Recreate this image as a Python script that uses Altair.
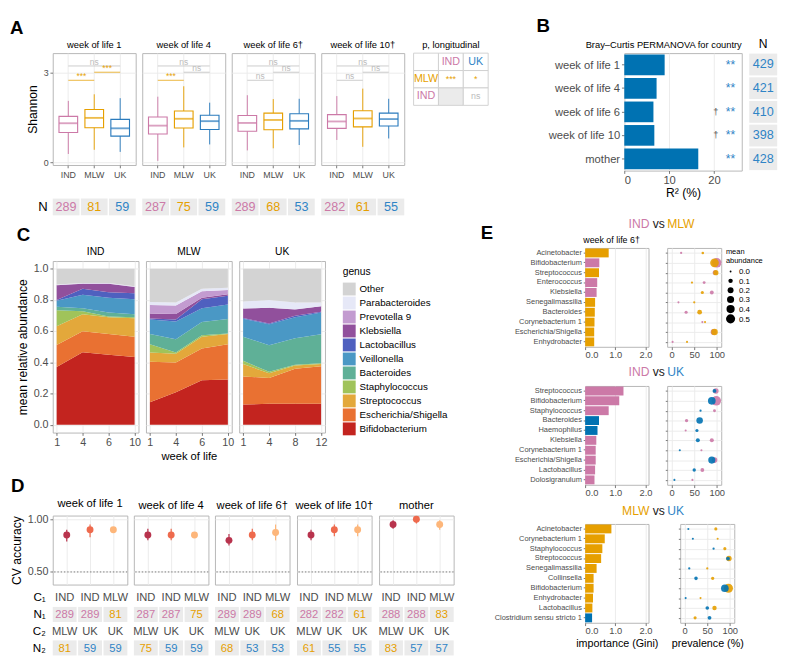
import json
import altair as alt
import pandas as pd

FONT = "Liberation Sans"
PINK = "#CC79A7"
ORANGE = "#E69F00"
BLUE = "#0072B2"
BLUE_TXT = "#2F84C6"
BOX_BLUE = "#2A7BBD"
LABEL = "#4D4D4D"
CELL = "#EBEBEB"
BORDER = "#B3B3B3"
NS_GRAY = "#BBBBBB"
NOVIEW = alt.ViewBackground(stroke="transparent")

TXT_COL = {"IND": PINK, "MLW": ORANGE, "UK": BLUE_TXT}
BOX_COL = {"IND": PINK, "MLW": ORANGE, "UK": BOX_BLUE}
BAR_COL = {"IND": PINK, "MLW": ORANGE, "UK": BLUE}
D_COL = {"IND-MLW": "#B8334D", "IND-UK": "#EE6A4D", "MLW-UK": "#FDB67A"}

COUNTRIES = ["IND", "MLW", "UK"]

# ---------------- Panel A data ----------------
a_weeks = ["week of life 1", "week of life 4", "week of life 6\u2020", "week of life 10\u2020"]
a_q1 = [[1.00, 1.16, 0.88], [0.95, 1.15, 1.10], [1.04, 1.09, 1.12], [1.14, 1.19, 1.22]]
a_med = [[1.31, 1.49, 1.14], [1.23, 1.46, 1.38], [1.32, 1.42, 1.39], [1.37, 1.47, 1.45]]
a_q3 = [[1.54, 1.77, 1.44], [1.52, 1.72, 1.58], [1.57, 1.65, 1.63], [1.60, 1.73, 1.65]]
a_lo = [[0.28, 0.42, 0.35], [0.05, 0.50, 0.60], [0.40, 0.47, 0.58], [0.75, 0.52, 0.80]]
a_hi = [[2.06, 2.28, 2.15], [2.20, 2.55, 2.00], [2.25, 2.12, 2.13], [2.22, 2.47, 2.13]]
a_br_g1 = ["IND", "MLW", "IND"]
a_br_g2 = ["MLW", "UK", "UK"]
a_br_y = [2.75, 3.02, 3.23]
a_br_lab = [["***", "***", "ns"], ["***", "ns", "ns"], ["ns", "ns", "ns"], ["ns", "ns", "ns"]]
a_n = [[289, 81, 59], [287, 75, 59], [289, 68, 53], [282, 61, 55]]

p_rows = ["hdr", "MLW", "IND"]
p_cols = ["lab", "IND", "UK"]
p_cell_row = ["hdr", "hdr", "hdr", "MLW", "MLW", "MLW", "IND", "IND", "IND"]
p_cell_col = ["lab", "IND", "UK", "lab", "IND", "UK", "lab", "IND", "UK"]
p_cell_text = ["", "IND", "UK", "MLW", "***", "*", "IND", "", "ns"]
p_cell_kind = ["blank", "head", "head", "head", "p", "p", "head", "na", "p"]

# ---------------- Panel B data ----------------
b_cats = ["week of life 1", "week of life 4", "week of life 6", "week of life 10", "mother"]
b_r2 = [9.0, 7.2, 6.5, 6.7, 16.5]
b_sig = ["**", "**", "**", "**", "**"]
b_dagger = ["", "", "\u2020", "\u2020", ""]
b_n = [429, 421, 410, 398, 428]

# ---------------- Panel C data ----------------
c_genera = ["Bifidobacterium", "Escherichia/Shigella", "Streptococcus", "Staphylococcus",
            "Bacteroides", "Veillonella", "Lactobacillus", "Klebsiella", "Prevotella 9",
            "Parabacteroides", "Other"]
c_palette = ["#C3241F", "#E97132", "#E3A83B", "#A0C35A", "#5FB097", "#4A98C5",
             "#4F60BF", "#91509C", "#C39BD0", "#E6E8F7", "#D3D3D3"]
c_week_labels = {"IND": ["1", "4", "6", "10"], "MLW": ["1", "4", "6", "10"], "UK": ["1", "4", "8", "12"]}
c_ind = {
    "Bifidobacterium": [0.371, 0.465, 0.449, 0.434],
    "Escherichia/Shigella": [0.141, 0.135, 0.134, 0.130],
    "Streptococcus": [0.120, 0.109, 0.107, 0.120],
    "Staphylococcus": [0.102, 0.019, 0.005, 0.005],
    "Bacteroides": [0.023, 0.020, 0.025, 0.020],
    "Veillonella": [0.038, 0.086, 0.094, 0.096],
    "Lactobacillus": [0.005, 0.038, 0.036, 0.039],
    "Klebsiella": [0.095, 0.033, 0.055, 0.040],
    "Prevotella 9": [0.001, 0.001, 0.001, 0.001],
    "Parabacteroides": [0.004, 0.004, 0.004, 0.003],
    "Other": [0.100, 0.090, 0.090, 0.112],
}
c_mlw = {
    "Bifidobacterium": [0.145, 0.208, 0.285, 0.290],
    "Escherichia/Shigella": [0.259, 0.192, 0.205, 0.226],
    "Streptococcus": [0.060, 0.055, 0.075, 0.067],
    "Staphylococcus": [0.052, 0.009, 0.009, 0.003],
    "Bacteroides": [0.067, 0.085, 0.086, 0.093],
    "Veillonella": [0.093, 0.114, 0.087, 0.092],
    "Lactobacillus": [0.005, 0.012, 0.058, 0.057],
    "Klebsiella": [0.033, 0.035, 0.010, 0.009],
    "Prevotella 9": [0.054, 0.055, 0.042, 0.028],
    "Parabacteroides": [0.019, 0.020, 0.016, 0.014],
    "Other": [0.213, 0.215, 0.127, 0.121],
}
c_uk = {
    "Bifidobacterium": [0.130, 0.135, 0.135, 0.135],
    "Escherichia/Shigella": [0.180, 0.165, 0.225, 0.240],
    "Streptococcus": [0.080, 0.030, 0.020, 0.015],
    "Staphylococcus": [0.020, 0.010, 0.005, 0.005],
    "Bacteroides": [0.155, 0.170, 0.170, 0.185],
    "Veillonella": [0.115, 0.135, 0.135, 0.140],
    "Lactobacillus": [0.005, 0.005, 0.010, 0.005],
    "Klebsiella": [0.060, 0.100, 0.040, 0.035],
    "Prevotella 9": [0.001, 0.001, 0.001, 0.001],
    "Parabacteroides": [0.044, 0.049, 0.044, 0.024],
    "Other": [0.210, 0.200, 0.215, 0.215],
}

# ---------------- Panel D data ----------------
d_groups = ["week of life 1", "week of life 4", "week of life 6\u2020", "week of life 10\u2020", "mother"]
d_comps = ["IND-MLW", "IND-UK", "MLW-UK"]
d_acc = [[0.85, 0.90, 0.90], [0.85, 0.85, 0.85], [0.80, 0.85, 0.875], [0.85, 0.90, 0.90], [0.95, 1.00, 0.95]]
d_lo = [[0.79, 0.83, 0.88], [0.80, 0.80, 0.83], [0.75, 0.80, 0.80], [0.80, 0.84, 0.84], [0.91, 0.96, 0.90]]
d_hi = [[0.90, 0.95, 0.92], [0.91, 0.91, 0.87], [0.86, 0.91, 0.95], [0.90, 0.95, 0.95], [0.99, 1.03, 0.99]]
d_chance = [0.5]
d_c1 = ["IND", "IND", "MLW"]
d_c2 = ["MLW", "UK", "UK"]
d_n1 = [[289, 289, 81], [287, 287, 75], [289, 289, 68], [282, 282, 61], [288, 288, 83]]
d_n2 = [[81, 59, 59], [75, 59, 59], [68, 53, 53], [61, 55, 55], [83, 57, 57]]
d_rows = ["C\u2081", "N\u2081", "C\u2082", "N\u2082"]

# ---------------- Panel E data ----------------
e_pairs = [("IND", "MLW"), ("IND", "UK"), ("MLW", "UK")]
e_subtitle = "week of life 6\u2020"
e1_genus = ["Acinetobacter", "Bifidobacterium", "Streptococcus", "Enterococcus", "Klebsiella",
            "Senegalimassilia", "Bacteroides", "Corynebacterium 1", "Escherichia/Shigella", "Enhydrobacter"]
e1_imp = [0.78, 0.47, 0.46, 0.40, 0.38, 0.33, 0.32, 0.31, 0.30, 0.30]
e1_win = ["MLW", "IND", "MLW", "IND", "IND", "MLW", "MLW", "MLW", "MLW", "MLW"]
e1_prev_a = [21, 100, 96, 72, 89, 15, 32, 68, 93, 2]
e1_ab_a = [0.01, 0.55, 0.12, 0.03, 0.07, 0.005, 0.04, 0.005, 0.20, 0.005]
e1_prev_b = [69, 95, 98, 45, 68, 50, 62, 74, 95, 34]
e1_ab_b = [0.02, 0.45, 0.15, 0.01, 0.04, 0.01, 0.12, 0.005, 0.25, 0.005]

e2_genus = ["Streptococcus", "Bifidobacterium", "Staphylococcus", "Bacteroides", "Haemophilus",
            "Klebsiella", "Corynebacterium 1", "Escherichia/Shigella", "Lactobacillus", "Dolosigranulum"]
e2_imp = [1.27, 1.13, 0.78, 0.46, 0.41, 0.37, 0.35, 0.35, 0.33, 0.31]
e2_win = ["IND", "IND", "IND", "UK", "UK", "IND", "IND", "IND", "IND", "IND"]
e2_prev_a = [98, 99, 95, 33, 31, 89, 66, 95, 68, 46]
e2_ab_a = [0.17, 0.55, 0.03, 0.05, 0.005, 0.08, 0.005, 0.18, 0.07, 0.005]
e2_prev_b = [95, 89, 64, 62, 56, 58, 18, 89, 50, 6]
e2_ab_b = [0.07, 0.35, 0.01, 0.25, 0.04, 0.08, 0.005, 0.30, 0.05, 0.005]

e3_genus = ["Acinetobacter", "Corynebacterium 1", "Staphylococcus", "Streptococcus", "Senegalimassilia",
            "Collinsella", "Bifidobacterium", "Enhydrobacter", "Lactobacillus", "Clostridium sensu stricto 1"]
e3_imp = [0.87, 0.65, 0.57, 0.53, 0.38, 0.28, 0.28, 0.26, 0.24, 0.23]
e3_win = ["MLW", "MLW", "MLW", "MLW", "MLW", "MLW", "MLW", "MLW", "MLW", "UK"]
e3_prev_a = [69, 73, 89, 98, 50, 62, 97, 35, 66, 23]
e3_ab_a = [0.04, 0.005, 0.04, 0.17, 0.01, 0.05, 0.50, 0.005, 0.10, 0.04]
e3_prev_b = [8, 18, 64, 96, 10, 25, 89, 2, 50, 55]
e3_ab_b = [0.005, 0.005, 0.01, 0.07, 0.01, 0.06, 0.35, 0.005, 0.06, 0.07]

e_sets = [
    (e1_genus, e1_imp, e1_win, e1_prev_a, e1_ab_a, e1_prev_b, e1_ab_b),
    (e2_genus, e2_imp, e2_win, e2_prev_a, e2_ab_a, e2_prev_b, e2_ab_b),
    (e3_genus, e3_imp, e3_win, e3_prev_a, e3_ab_a, e3_prev_b, e3_ab_b),
]


def letter(t, dx=0):
    return alt.Title(t, anchor="start", fontSize=20, fontWeight="bold", offset=2, color="black", dx=dx)


def spacer(w, h):
    return alt.Chart(pd.DataFrame({"s": [0]})).mark_point().encode(
        opacity=alt.value(0)).properties(width=w, height=h, view=NOVIEW)


# ---------------- Panel A ----------------
def a_box(i):
    df = pd.DataFrame({"country": COUNTRIES, "q1": a_q1[i], "med": a_med[i],
                       "q3": a_q3[i], "lo": a_lo[i], "hi": a_hi[i]})
    df["col"] = df["country"].map(BOX_COL)
    br = pd.DataFrame({"g1": a_br_g1, "g2": a_br_g2, "y": a_br_y, "label": a_br_lab[i]})
    br["col"] = [NS_GRAY if s == "ns" else ORANGE for s in br["label"]]
    br["mid"] = [COUNTRIES[(COUNTRIES.index(a) + COUNTRIES.index(b)) // 2] for a, b in zip(br.g1, br.g2)]
    br["wide"] = [COUNTRIES.index(b) - COUNTRIES.index(a) for a, b in zip(br.g1, br.g2)]
    xs = alt.Scale(domain=COUNTRIES, paddingInner=0, paddingOuter=0.1)
    ys = alt.Scale(domain=[-0.09, 3.66], nice=False, zero=False)
    xax = alt.Axis(title=None, labelAngle=0, labelFontSize=9.5, tickSize=3, labelPadding=2, grid=True)
    if i == 0:
        yax = alt.Axis(values=[0, 1, 2, 3], title="Shannon", titleFontSize=13, labelFontSize=9.5,
                       tickSize=3, labelPadding=2, titlePadding=4)
    else:
        yax = alt.Axis(values=[0, 1, 2, 3], title=None, labels=False, ticks=False)
    ident = alt.Color("col:N", scale=None)
    whisk = alt.Chart(df).mark_rule(strokeWidth=1).encode(
        x=alt.X("country:N", scale=xs, axis=xax), y=alt.Y("lo:Q", scale=ys, axis=yax), y2="hi", color=ident)
    box = alt.Chart(df).mark_bar(width=20, fill="white", strokeWidth=1.2).encode(
        x="country:N", y="q1:Q", y2="q3", stroke=alt.Stroke("col:N", scale=None))
    med = alt.Chart(df).mark_tick(thickness=2, size=20).encode(x="country:N", y="med:Q", color=ident)
    lines = alt.Chart(br).mark_rule(strokeWidth=0.8).encode(x="g1:N", x2="g2", y="y:Q", color=ident)
    t_adj = alt.Chart(br).transform_filter("datum.wide == 1").mark_text(
        fontSize=9, baseline="alphabetic", dy=-1).encode(
        x=alt.X("mid:N", bandPosition=1), y="y:Q", text="label:N", color=ident)
    t_wide = alt.Chart(br).transform_filter("datum.wide == 2").mark_text(
        fontSize=9, baseline="alphabetic", dy=-1).encode(
        x=alt.X("mid:N", bandPosition=0.5), y="y:Q", text="label:N", color=ident)
    return alt.layer(whisk, box, med, lines, t_adj, t_wide).properties(
        width=89, height=120, title=alt.Title(a_weeks[i], fontSize=10, offset=3))


def a_nrow(i):
    df = pd.DataFrame({"country": COUNTRIES, "n": a_n[i], "row": ["N", "N", "N"]})
    df["col"] = df["country"].map(TXT_COL)
    x = alt.X("country:N", scale=alt.Scale(domain=COUNTRIES, paddingInner=0.05, paddingOuter=0), axis=None)
    if i == 0:
        y = alt.Y("row:N", axis=alt.Axis(title=None, labelFontSize=14, labelColor="black",
                                          ticks=False, labelPadding=6, grid=False))
    else:
        y = alt.Y("row:N", axis=None)
    rect = alt.Chart(df).mark_rect(color=CELL).encode(x=x, y=y)
    txt = alt.Chart(df).mark_text(fontSize=13.5).encode(
        x="country:N", y="row:N", text="n:Q", color=alt.Color("col:N", scale=None))
    return alt.layer(rect, txt).properties(width=89, height=18, view=NOVIEW)


P_TXT = {"IND": PINK, "UK": BLUE_TXT, "MLW": ORANGE, "***": ORANGE, "*": ORANGE, "ns": NS_GRAY, "": "black"}


def p_table():
    df = pd.DataFrame({"r": p_cell_row, "c": p_cell_col, "t": p_cell_text, "kind": p_cell_kind})
    df["fill"] = [CELL if k == "na" else "white" for k in df["kind"]]
    df["tc"] = df["t"].map(P_TXT)
    df["fs"] = [9.5 if k == "p" else 11.5 for k in df["kind"]]
    x = alt.X("c:N", sort=p_cols, scale=alt.Scale(domain=p_cols, paddingInner=0, paddingOuter=0), axis=None)
    y = alt.Y("r:N", sort=p_rows, scale=alt.Scale(domain=p_rows, paddingInner=0, paddingOuter=0), axis=None)
    rect = alt.Chart(df).mark_rect(stroke="#D0D0D0", strokeWidth=1).encode(
        x=x, y=y, fill=alt.Fill("fill:N", scale=None))
    txt = alt.Chart(df).mark_text().encode(
        x="c:N", y="r:N", text="t:N", color=alt.Color("tc:N", scale=None), size=alt.Size("fs:Q", scale=None))
    return alt.layer(rect, txt).properties(
        width=80, height=56, view=NOVIEW, title=alt.Title("p, longitudinal", fontSize=10, offset=3))


a_cols = [alt.vconcat(a_box(i), a_nrow(i), spacing=20) for i in range(4)]
panelA = alt.hconcat(alt.hconcat(*a_cols, spacing=5), p_table(), spacing=8, title=letter("A", dx=-18))


# ---------------- Panel B ----------------
def b_plot():
    df = pd.DataFrame({"cat": b_cats, "r2": b_r2, "sig": b_sig, "dag": b_dagger})
    y = alt.Y("cat:N", sort=b_cats, scale=alt.Scale(domain=b_cats, paddingInner=0.12, paddingOuter=0.06),
              axis=alt.Axis(title=None, labelFontSize=12, tickSize=3, labelPadding=2, labelLimit=200))
    xs = alt.Scale(domain=[0, 26.2], nice=False)
    bars = alt.Chart(df).mark_bar(color=BLUE).encode(
        x=alt.X("r2:Q", scale=xs, axis=alt.Axis(values=[0, 10, 20], title="R\u00b2 (%)", titleFontSize=13,
                                                  labelFontSize=12, tickSize=3, titlePadding=2)),
        y=y)
    sig = alt.Chart(df).mark_text(color=BLUE_TXT, fontSize=13, baseline="middle").encode(
        x=alt.datum(23.7), y=alt.Y("cat:N", sort=b_cats), text="sig:N")
    dag = alt.Chart(df).mark_text(color=LABEL, fontSize=10, baseline="middle").encode(
        x=alt.datum(20.4), y=alt.Y("cat:N", sort=b_cats), text="dag:N")
    return alt.layer(bars, sig, dag).properties(
        width=126, height=126,
        title=alt.Title("Bray\u2013Curtis PERMANOVA for country", fontSize=10, offset=4, anchor="end"))


def b_ncol():
    df = pd.DataFrame({"cat": b_cats, "n": b_n, "col": ["N"] * 5})
    x = alt.X("col:N", axis=None)
    y = alt.Y("cat:N", sort=b_cats, scale=alt.Scale(domain=b_cats, paddingInner=0.08, paddingOuter=0.02), axis=None)
    rect = alt.Chart(df).mark_rect(color=CELL).encode(x=x, y=y)
    txt = alt.Chart(df).mark_text(fontSize=13.5, color=BLUE_TXT).encode(x="col:N", y=alt.Y("cat:N", sort=b_cats), text="n:Q")
    return alt.layer(rect, txt).properties(width=30, height=126, view=NOVIEW,
                                           title=alt.Title("N", fontSize=13, offset=3))


panelB = alt.hconcat(b_plot(), b_ncol(), spacing=6, title=letter("B", dx=-12))
row1 = alt.hconcat(panelA, panelB, spacing=50)

# ---------------- Panel C ----------------
legend_order = list(reversed(c_genera))
legend_colors = list(reversed(c_palette))


def c_panel(country, data, first, middle):
    recs = []
    for rank, g in enumerate(c_genera):
        for idx, v in enumerate(data[g]):
            recs.append({"genus": g, "rank": rank, "idx": idx, "value": v})
    df = pd.DataFrame(recs)
    labels = json.dumps(c_week_labels[country])
    xax = alt.Axis(values=[0, 1, 2, 3], labelExpr=labels + "[datum.value]",
                   title=("week of life" if middle else None), titleFontSize=12,
                   labelFontSize=11.5, tickSize=3, labelPadding=2, titlePadding=3)
    if first:
        yax = alt.Axis(values=[0, 0.2, 0.4, 0.6, 0.8, 1.0], format=".1f", title="mean relative abundance",
                       titleFontSize=13, labelFontSize=11.5, tickSize=3, titlePadding=4, labelPadding=2)
    else:
        yax = alt.Axis(values=[0, 0.2, 0.4, 0.6, 0.8, 1.0], title=None, labels=False, ticks=False)
    leg = alt.Legend(title="genus", titleFontSize=11, titleFontWeight="normal", labelFontSize=10.5,
                     symbolType="square", symbolSize=190, symbolStrokeWidth=0, rowPadding=1,
                     offset=10, padding=6, titlePadding=6, labelLimit=200)
    return alt.Chart(df).mark_area().encode(
        x=alt.X("idx:Q", scale=alt.Scale(domain=[-0.15, 3.15], nice=False), axis=xax),
        y=alt.Y("value:Q", stack="zero", scale=alt.Scale(domain=[-0.05, 1.05], nice=False), axis=yax),
        color=alt.Color("genus:N", scale=alt.Scale(domain=legend_order, range=legend_colors), legend=leg),
        order=alt.Order("rank:Q", sort="ascending"),
    ).properties(width=92, height=184, title=alt.Title(country, fontSize=11, offset=4))


panelC = alt.hconcat(c_panel("IND", c_ind, True, False), c_panel("MLW", c_mlw, False, True),
                     c_panel("UK", c_uk, False, False), spacing=4, title=letter("C")).resolve_scale(color="shared")


# ---------------- Panel D ----------------
def d_plot(i):
    df = pd.DataFrame({"comp": d_comps, "acc": d_acc[i], "lo": d_lo[i], "hi": d_hi[i]})
    df["col"] = df["comp"].map(D_COL)
    x = alt.X("comp:N", scale=alt.Scale(type="point", domain=d_comps, padding=0.6),
              axis=alt.Axis(title=None, labels=False, ticks=False, grid=True))
    ys = alt.Scale(domain=[0.38, 1.035], nice=False, zero=False)
    if i == 0:
        yax = alt.Axis(values=[0.5, 0.75, 1.0], format=".2f", title="CV accuracy", titleFontSize=13,
                       labelFontSize=11.5, tickSize=3, titlePadding=4, labelPadding=2)
    else:
        yax = alt.Axis(values=[0.5, 0.75, 1.0], title=None, labels=False, ticks=False)
    ident = alt.Color("col:N", scale=None)
    err = alt.Chart(df).mark_rule(strokeWidth=1.3).encode(
        x=x, y=alt.Y("lo:Q", scale=ys, axis=yax), y2="hi", color=ident)
    chance = alt.Chart(pd.DataFrame({"c": d_chance})).mark_rule(
        strokeDash=[1.5, 2], color="#555555", strokeWidth=0.8).encode(y="c:Q")
    pts = alt.Chart(df).mark_circle(size=55, opacity=1).encode(x="comp:N", y="acc:Q", color=ident)
    return alt.layer(err, chance, pts).properties(
        width=80, height=74, title=alt.Title(d_groups[i], fontSize=12, offset=4))


def d_table(i):
    recs = []
    for j, comp in enumerate(d_comps):
        recs.append({"comp": comp, "row": d_rows[0], "t": d_c1[j], "col": LABEL, "box": 0})
        recs.append({"comp": comp, "row": d_rows[1], "t": str(d_n1[i][j]), "col": TXT_COL[d_c1[j]], "box": 1})
        recs.append({"comp": comp, "row": d_rows[2], "t": d_c2[j], "col": LABEL, "box": 0})
        recs.append({"comp": comp, "row": d_rows[3], "t": str(d_n2[i][j]), "col": TXT_COL[d_c2[j]], "box": 1})
    df = pd.DataFrame(recs)
    x = alt.X("comp:N", scale=alt.Scale(domain=d_comps, paddingInner=0.06, paddingOuter=0), axis=None)
    if i == 0:
        yax = alt.Axis(title=None, labelFontSize=12.5, labelColor="black", ticks=False, labelPadding=8, grid=False)
    else:
        yax = None
    y = alt.Y("row:N", sort=d_rows, scale=alt.Scale(domain=d_rows, paddingInner=0.1, paddingOuter=0), axis=yax)
    rect = alt.Chart(df).transform_filter("datum.box == 1").mark_rect(color=CELL).encode(x=x, y=y)
    txt = alt.Chart(df).mark_text(fontSize=12).encode(
        x="comp:N", y=alt.Y("row:N", sort=d_rows), text="t:N", color=alt.Color("col:N", scale=None))
    return alt.layer(rect, txt).properties(width=80, height=70, view=NOVIEW)


panelD = alt.hconcat(*[alt.vconcat(d_plot(i), d_table(i), spacing=4) for i in range(5)],
                     spacing=3, title=letter("D"))

CD = alt.vconcat(alt.vconcat(spacer(1, 4), panelC, spacing=0).resolve_scale(color="independent"),
                 panelD, spacing=16).resolve_scale(color="independent")


# ---------------- Panel E ----------------
def e_title(k):
    a, b = e_pairs[k]
    h = 28 if k == 0 else 24
    dy = -9 if k == 0 else (-1 if k == 1 else 0)
    base = alt.Chart(pd.DataFrame({"t": [0]}))
    layers = [
        base.mark_text(align="right", dx=35, dy=dy, fontSize=13, color=TXT_COL[a]).encode(text=alt.value(a)),
        base.mark_text(align="center", dx=45, dy=dy, fontSize=13, color="#1A1A1A").encode(text=alt.value("vs")),
        base.mark_text(align="left", dx=54, dy=dy, fontSize=13, color=TXT_COL[b]).encode(text=alt.value(b)),
    ]
    if k == 0:
        layers.append(base.mark_text(align="left", dx=-146, dy=0, fontSize=20, fontWeight="bold",
                                     color="black").encode(text=alt.value("E")))
        layers.append(base.mark_text(align="left", dx=-36, dy=8, fontSize=9.5,
                                     color="black").encode(text=alt.value(e_subtitle)))
    return alt.layer(*layers).properties(width=68, height=h, view=NOVIEW)


def e_bar(k):
    genus, imp, win = e_sets[k][0], e_sets[k][1], e_sets[k][2]
    df = pd.DataFrame({"genus": genus, "imp": imp, "win": win})
    df["col"] = df["win"].map(BAR_COL)
    if k == 2:
        xax = alt.Axis(values=[0, 1, 2], labelFontSize=10, tickSize=3, labelPadding=1,
                       title="importance (Gini)", titleFontSize=11.5, titlePadding=2)
    else:
        xax = alt.Axis(values=[0, 1, 2], labelFontSize=10, tickSize=3, labelPadding=1, title=None)
    return alt.Chart(df).mark_bar().encode(
        x=alt.X("imp:Q", scale=alt.Scale(domain=[0, 2.1], nice=False), axis=xax),
        y=alt.Y("genus:N", sort=genus, scale=alt.Scale(domain=genus, paddingInner=0.1, paddingOuter=0.05),
                axis=alt.Axis(title=None, labelFontSize=8, tickSize=2, labelPadding=2,
                              minExtent=100, maxExtent=100, labelLimit=120)),
        color=alt.Color("col:N", scale=None),
    ).properties(width=68, height=106)


def e_bub(k):
    genus, _, _, prev_a, ab_a, prev_b, ab_b = e_sets[k]
    a, b = e_pairs[k]
    df = pd.DataFrame({"genus": genus + genus, "prev": prev_a + prev_b, "ab": ab_a + ab_b,
                       "country": [a] * len(genus) + [b] * len(genus)})
    df["col"] = df["country"].map(BAR_COL)
    if k == 2:
        xax = alt.Axis(values=[0, 50, 100], labelFontSize=10, tickSize=3, labelPadding=1,
                       title="prevalence (%)", titleFontSize=11.5, titlePadding=2)
    else:
        xax = alt.Axis(values=[0, 50, 100], labelFontSize=10, tickSize=3, labelPadding=1, title=None)
    if k == 0:
        size = alt.Size("ab:Q", scale=alt.Scale(domain=[0, 0.5], range=[4, 95]),
                        legend=alt.Legend(title=["mean", "abundance"], titleFontSize=8, titleFontWeight="normal",
                                          labelFontSize=8.5, values=[0, 0.1, 0.2, 0.3, 0.4, 0.5], format=".1f",
                                          symbolFillColor="black", symbolStrokeWidth=0, symbolOpacity=1,
                                          offset=5, rowPadding=1, titlePadding=3))
    else:
        size = alt.Size("ab:Q", scale=alt.Scale(domain=[0, 0.5], range=[4, 95]), legend=None)
    return alt.Chart(df).mark_circle(opacity=0.9).encode(
        x=alt.X("prev:Q", scale=alt.Scale(domain=[-10, 110], nice=False), axis=xax),
        y=alt.Y("genus:N", sort=genus, scale=alt.Scale(domain=genus, padding=0.5),
                axis=alt.Axis(title=None, labels=False, tickSize=2, grid=True)),
        size=size,
        color=alt.Color("col:N", scale=None),
    ).properties(width=58, height=106)


def e_row(k):
    return alt.hconcat(e_bar(k), e_bub(k), spacing=12).resolve_scale(size="independent")


panelE = alt.vconcat(e_title(0), e_row(0), e_title(1), e_row(1), e_title(2), e_row(2),
                     spacing=0).resolve_scale(size="independent")

row2 = alt.hconcat(CD, panelE, spacing=26).resolve_scale(color="independent", size="independent")

chart = alt.vconcat(row1, row2, spacing=2).resolve_scale(color="independent", size="independent")
chart = chart.properties(padding={"left": 2, "right": 2, "top": -15, "bottom": 2})
chart = chart.configure(font=FONT).configure_view(stroke=BORDER, strokeWidth=1).configure_axis(
    labelColor=LABEL, titleColor="black", titleFontWeight="normal", gridColor="#EBEBEB",
    domain=False, tickColor="#4D4D4D", tickWidth=0.8).configure_title(
    fontWeight="normal", color="black").configure_legend(labelColor="black", titleColor="black")

chart.save("out.html", embed_options={"renderer": "svg", "actions": False})
